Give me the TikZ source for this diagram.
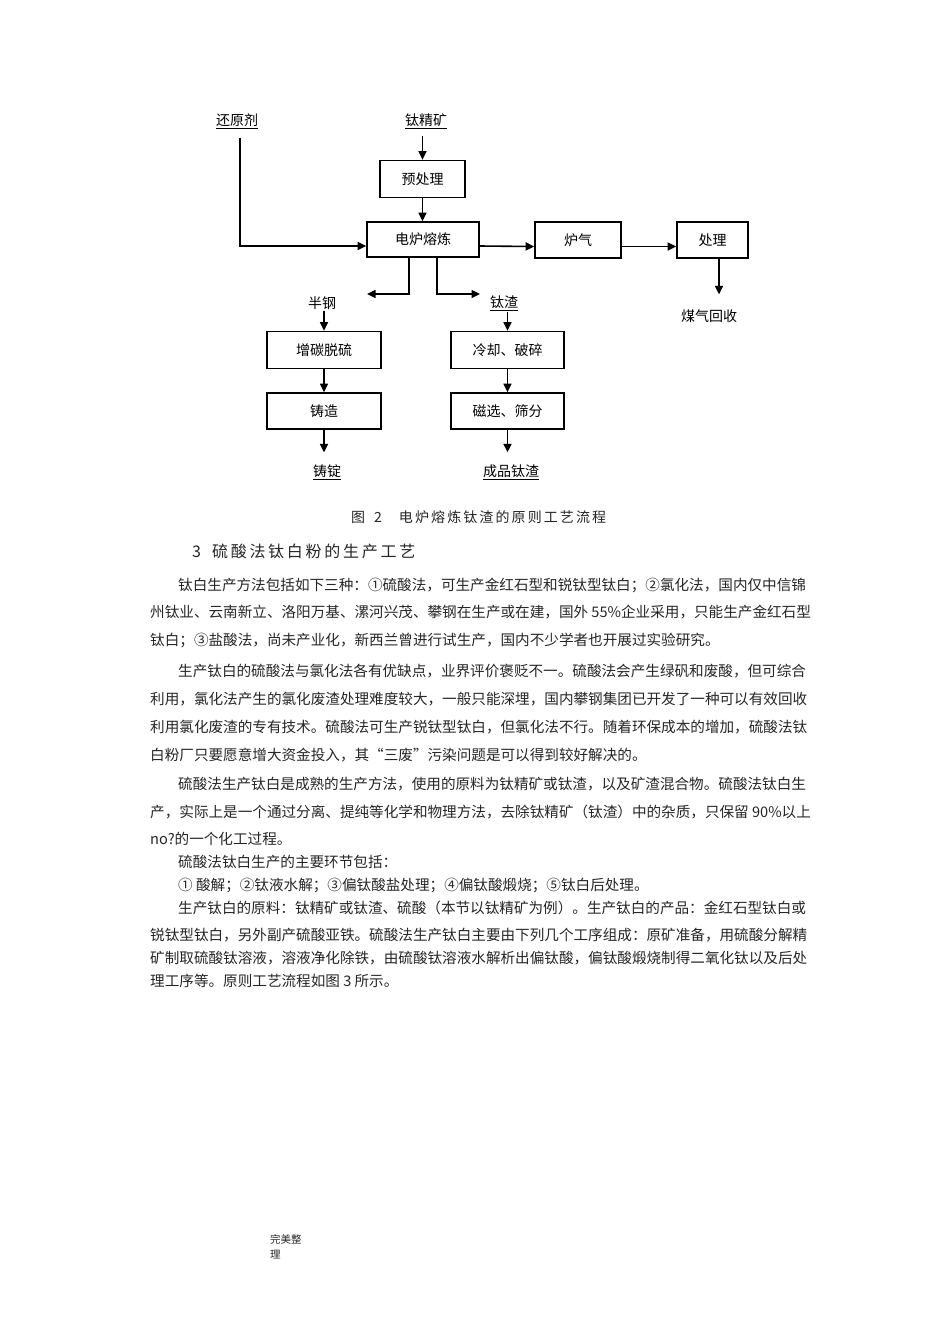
\documentclass[tikz,border=0pt]{standalone}
\usepackage{fontspec}
\setmainfont{Noto Sans CJK SC}
\usetikzlibrary{arrows.meta,positioning}

\newcommand{\chartfont}{\fontsize{14}{15}\selectfont}
\newcommand{\bodyfont}{\fontsize{14.6}{16}\selectfont}
\newcommand{\capfont}{\fontsize{14}{16}\selectfont\addfontfeature{LetterSpace=15}}
\newcommand{\headfont}{\fontsize{16}{18}\selectfont\addfontfeature{LetterSpace=17}}

\begin{document}
\begin{tikzpicture}[x=1pt, y=-1pt,
    arr/.style={line width=1.6pt, -{Triangle[length=8.5pt,width=8pt]}},
    proc/.style={draw, line width=1.6pt, minimum width=#1, minimum height=37pt,
        inner sep=0pt, font=\chartfont},
    proc/.default=113pt,
    lbl/.style={inner sep=1pt, font=\chartfont},
    txtline/.style={anchor=west, inner sep=0pt, font=\bodyfont, text=black!85}]
    % Page
    \fill[white] (0,0) rectangle (950,1318);
    \useasboundingbox (0,0) rectangle (950,1318);
    % Inputs
    \node[lbl] (hyj) at (237,121) {\underline{还原剂}};
    \node[lbl] (tjk) at (426,121) {\underline{钛精矿}};
    % Smelting line
    \node[proc=85pt] (ycl) at (422.5,179) {预处理};
    \node[proc=112pt, minimum height=35pt] (dlrl) at (423,239.5) {电炉熔炼};
    \node[proc=86pt, minimum height=36pt] (lq) at (578,240) {炉气\hspace{14pt}};
    \node[proc=71pt, minimum height=36pt] (cl) at (712.5,240) {处理};
    \node[lbl] (mqhs) at (709,316) {煤气回收};
    % Products
    \node[lbl] (bg) at (322,303) {半钢};
    \node[lbl] (tz) at (504,303) {\underline{钛渣}};
    \node[proc=114pt] (ztts) at (324,350) {增碳脱硫};
    \node[proc=114pt, minimum height=36pt] (zz) at (324,411) {铸造};
    \node[lbl] (zd) at (327,472) {\underline{铸锭}};
    \node[proc] (lqps) at (507.5,350) {冷却、破碎};
    \node[proc, minimum height=36pt] (cxsf) at (507.5,411) {磁选、筛分};
    \node[lbl] (cptz) at (511,472) {\underline{成品钛渣}};
    % Connectors
    \coordinate (hyj-out) at ([xshift=3pt,yshift=-8pt]hyj.south);
    \coordinate (bg-in) at (367,294);
    \coordinate (tz-in) at (480,294);
    \coordinate (cl-out) at ([xshift=6.5pt]cl.south);
    \draw[arr] (hyj-out) |- ([yshift=-6.5pt]dlrl.west);
    \draw[arr, shorten <=6pt] (ycl.north |- tjk.south) -- (ycl.north);
    \draw[arr] (ycl.south) -- (ycl.south |- dlrl.north);
    \draw[arr] ([yshift=-6.5pt]dlrl.east) -- ([yshift=-6.5pt]lq.west);
    \draw[arr] ([yshift=-6.5pt]lq.east) -- ([yshift=-6.5pt]cl.west);
    \draw[arr, shorten >=14pt] (cl-out) -- (cl-out |- mqhs.north);
    \draw[arr] ([xshift=-14pt]dlrl.south) |- (bg-in);
    \draw[arr] ([xshift=14pt]dlrl.south) |- (tz-in);
    \draw[arr] (ztts.north |- bg.south) -- (ztts.north);
    \draw[arr] (ztts.south) -- (zz.north);
    \draw[arr, shorten >=11pt] (zz.south) -- (zz.south |- zd.north);
    \draw[arr] (lqps.north |- tz.south) -- (lqps.north);
    \draw[arr] (lqps.south) -- (cxsf.north);
    \draw[arr, shorten >=11pt] (cxsf.south) -- (cxsf.south |- cptz.north);
    % Caption and heading
    \node[txtline, font=\capfont] (cap) at (351,517) {图\hspace{9pt}2\hspace{17pt}电炉熔炼钛渣的原则工艺流程};
    \node[txtline, font=\headfont] (head) at (192,551) {3\hspace{11pt}硫酸法钛白粉的生产工艺};
    % Body text
    \node[txtline] (p1a) at (178,585) {钛白生产方法包括如下三种：①硫酸法，可生产金红石型和锐钛型钛白；②氯化法，国内仅中信锦};
    \node[txtline] (p1b) at (150,612) {州钛业、云南新立、洛阳万基、漯河兴茂、攀钢在生产或在建，国外 55\%企业采用，只能生产金红石型};
    \node[txtline] (p1c) at (150,640) {钛白；③盐酸法，尚未产业化，新西兰曾进行试生产，国内不少学者也开展过实验研究。};
    \node[txtline] (p2a) at (178,671) {生产钛白的硫酸法与氯化法各有优缺点，业界评价褒贬不一。硫酸法会产生绿矾和废酸，但可综合};
    \node[txtline] (p2b) at (150,699) {利用，氯化法产生的氯化废渣处理难度较大，一般只能深埋，国内攀钢集团已开发了一种可以有效回收};
    \node[txtline] (p2c) at (150,727) {利用氯化废渣的专有技术。硫酸法可生产锐钛型钛白，但氯化法不行。随着环保成本的增加，硫酸法钛};
    \node[txtline] (p2d) at (150,755) {白粉厂只要愿意增大资金投入，其“三废”污染问题是可以得到较好解决的。};
    \node[txtline] (p3a) at (178,784) {硫酸法生产钛白是成熟的生产方法，使用的原料为钛精矿或钛渣，以及矿渣混合物。硫酸法钛白生};
    \node[txtline] (p3b) at (150,812) {产，实际上是一个通过分离、提纯等化学和物理方法，去除钛精矿（钛渣）中的杂质，只保留 90\%以上};
    \node[txtline] (p3c) at (150,839) {no?的一个化工过程。};
    \node[txtline] (p4) at (178,862) {硫酸法钛白生产的主要环节包括：};
    \node[txtline] (p5) at (178,885) {① 酸解；②钛液水解；③偏钛酸盐处理；④偏钛酸煅烧；⑤钛白后处理。};
    \node[txtline] (p6a) at (178,908) {生产钛白的原料：钛精矿或钛渣、硫酸（本节以钛精矿为例）。生产钛白的产品：金红石型钛白或};
    \node[txtline] (p6b) at (150,935) {锐钛型钛白，另外副产硫酸亚铁。硫酸法生产钛白主要由下列几个工序组成：原矿准备，用硫酸分解精};
    \node[txtline] (p6c) at (150,958) {矿制取硫酸钛溶液，溶液净化除铁，由硫酸钛溶液水解析出偏钛酸，偏钛酸煅烧制得二氧化钛以及后处};
    \node[txtline] (p6d) at (150,981) {理工序等。原则工艺流程如图 3 所示。};
    % Footer
    \node[txtline, font=\fontsize{10.5}{15.5}\selectfont, align=left] (foot) at (270,1247) {完美整\\理};
\end{tikzpicture}
\end{document}
